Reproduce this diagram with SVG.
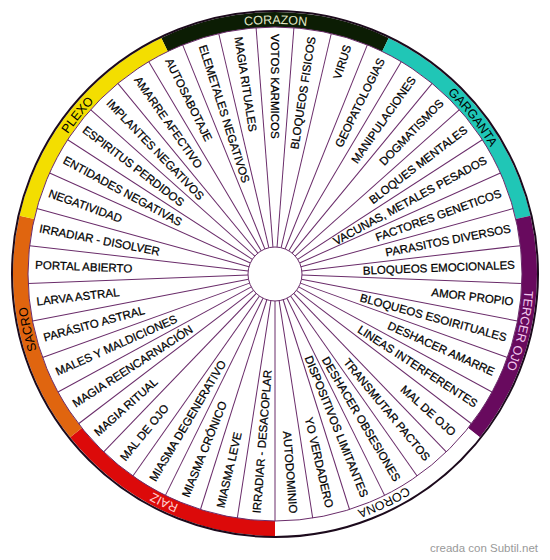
<svg xmlns="http://www.w3.org/2000/svg" xmlns:xlink="http://www.w3.org/1999/xlink" width="550" height="560" viewBox="0 0 550 560">
<style>
.lbl{font-family:"Liberation Sans",Arial,sans-serif;font-size:11.5px;fill:#000;stroke:#000;stroke-width:0.25}
.r{text-anchor:end}
.l{text-anchor:start}
.ch{font-family:"Liberation Sans",Arial,sans-serif;font-size:12.5px;text-anchor:middle}
.sp{stroke:#6a2c6a;stroke-width:1;fill:none}
</style>
<defs>
<path id="arc" d="M275,24 A250,250 0 0 1 275,524 A250,250 0 0 1 275,24 A250,250 0 0 1 275,524 A250,250 0 0 1 275,24" fill="none"/>
</defs>
<rect width="550" height="560" fill="#fff"/>
<g id="ring">
<g id="corazon"><path d="M161.32,37.95 A262,262 0 0 1 388.68,37.95 L382.17,51.46 A247,247 0 0 0 167.83,51.46 Z" fill="#0c1d04"/></g>
<g id="garganta"><path d="M388.68,37.95 A262,262 0 0 1 530.43,215.70 L515.81,219.04 A247,247 0 0 0 382.17,51.46 Z" fill="#20c6b6"/></g>
<g id="tercer-ojo"><path d="M530.43,215.70 A262,262 0 0 1 479.84,437.35 L468.11,428 A247,247 0 0 0 515.81,219.04 Z" fill="#680a5e"/></g>
<g id="corona"><path d="M479.84,437.35 A262,262 0 0 1 275,536 L275,521 A247,247 0 0 0 468.11,428 Z" fill="#fff"/></g>
<g id="raiz"><path d="M275,536 A262,262 0 0 1 70.16,437.35 L81.89,428 A247,247 0 0 0 275,521 Z" fill="#dc0a0a"/></g>
<g id="sacro"><path d="M70.16,437.35 A262,262 0 0 1 19.57,215.70 L34.19,219.04 A247,247 0 0 0 81.89,428 Z" fill="#e0650f"/></g>
<g id="plexo"><path d="M19.57,215.70 A262,262 0 0 1 161.32,37.95 L167.83,51.46 A247,247 0 0 0 34.19,219.04 Z" fill="#f3de00"/></g>
<circle cx="275" cy="274" r="247" class="sp"/>
<circle cx="275" cy="274" r="263" fill="none" stroke="#1c0a1c" stroke-width="2"/>
</g>
<g id="ring-labels">
<text class="ch" fill="#e2e8c8"><textPath xlink:href="#arc" href="#arc" startOffset="1570.80">CORAZON</textPath></text>
<text class="ch" fill="#000"><textPath xlink:href="#arc" href="#arc" startOffset="1795.20">GARGANTA</textPath></text>
<text class="ch" fill="#f2c8ee"><textPath xlink:href="#arc" href="#arc" startOffset="2019.60">TERCER OJO</textPath></text>
<text class="ch" fill="#000"><textPath xlink:href="#arc" href="#arc" startOffset="2244.00">CORONA</textPath></text>
<text class="ch" fill="#ffd0d0"><textPath xlink:href="#arc" href="#arc" startOffset="2468.40">RAIZ</textPath></text>
<text class="ch" fill="#000"><textPath xlink:href="#arc" href="#arc" startOffset="2692.80">SACRO</textPath></text>
<text class="ch" fill="#000"><textPath xlink:href="#arc" href="#arc" startOffset="2917.20">PLEXO</textPath></text>
</g>
<g id="connectors" class="sp">
<line x1="275" y1="247" x2="275" y2="27" transform="rotate(4.390 275 274)"/>
<line x1="275" y1="247" x2="275" y2="27" transform="rotate(13.171 275 274)"/>
<line x1="275" y1="247" x2="275" y2="27" transform="rotate(21.951 275 274)"/>
<line x1="275" y1="247" x2="275" y2="27" transform="rotate(30.732 275 274)"/>
<line x1="275" y1="247" x2="275" y2="27" transform="rotate(39.512 275 274)"/>
<line x1="275" y1="247" x2="275" y2="27" transform="rotate(48.293 275 274)"/>
<line x1="275" y1="247" x2="275" y2="27" transform="rotate(57.073 275 274)"/>
<line x1="275" y1="247" x2="275" y2="27" transform="rotate(65.854 275 274)"/>
<line x1="275" y1="247" x2="275" y2="27" transform="rotate(74.634 275 274)"/>
<line x1="275" y1="247" x2="275" y2="27" transform="rotate(83.415 275 274)"/>
<line x1="275" y1="247" x2="275" y2="27" transform="rotate(92.195 275 274)"/>
<line x1="275" y1="247" x2="275" y2="27" transform="rotate(100.976 275 274)"/>
<line x1="275" y1="247" x2="275" y2="27" transform="rotate(109.756 275 274)"/>
<line x1="275" y1="247" x2="275" y2="27" transform="rotate(118.537 275 274)"/>
<line x1="275" y1="247" x2="275" y2="27" transform="rotate(127.317 275 274)"/>
<line x1="275" y1="247" x2="275" y2="27" transform="rotate(136.098 275 274)"/>
<line x1="275" y1="247" x2="275" y2="27" transform="rotate(144.878 275 274)"/>
<line x1="275" y1="247" x2="275" y2="27" transform="rotate(153.659 275 274)"/>
<line x1="275" y1="247" x2="275" y2="27" transform="rotate(162.439 275 274)"/>
<line x1="275" y1="247" x2="275" y2="27" transform="rotate(171.220 275 274)"/>
<line x1="275" y1="247" x2="275" y2="27" transform="rotate(180 275 274)"/>
<line x1="275" y1="247" x2="275" y2="27" transform="rotate(188.780 275 274)"/>
<line x1="275" y1="247" x2="275" y2="27" transform="rotate(197.561 275 274)"/>
<line x1="275" y1="247" x2="275" y2="27" transform="rotate(206.341 275 274)"/>
<line x1="275" y1="247" x2="275" y2="27" transform="rotate(215.122 275 274)"/>
<line x1="275" y1="247" x2="275" y2="27" transform="rotate(223.902 275 274)"/>
<line x1="275" y1="247" x2="275" y2="27" transform="rotate(232.683 275 274)"/>
<line x1="275" y1="247" x2="275" y2="27" transform="rotate(241.463 275 274)"/>
<line x1="275" y1="247" x2="275" y2="27" transform="rotate(250.244 275 274)"/>
<line x1="275" y1="247" x2="275" y2="27" transform="rotate(259.024 275 274)"/>
<line x1="275" y1="247" x2="275" y2="27" transform="rotate(267.805 275 274)"/>
<line x1="275" y1="247" x2="275" y2="27" transform="rotate(276.585 275 274)"/>
<line x1="275" y1="247" x2="275" y2="27" transform="rotate(285.366 275 274)"/>
<line x1="275" y1="247" x2="275" y2="27" transform="rotate(294.146 275 274)"/>
<line x1="275" y1="247" x2="275" y2="27" transform="rotate(302.927 275 274)"/>
<line x1="275" y1="247" x2="275" y2="27" transform="rotate(311.707 275 274)"/>
<line x1="275" y1="247" x2="275" y2="27" transform="rotate(320.488 275 274)"/>
<line x1="275" y1="247" x2="275" y2="27" transform="rotate(329.268 275 274)"/>
<line x1="275" y1="247" x2="275" y2="27" transform="rotate(338.049 275 274)"/>
<line x1="275" y1="247" x2="275" y2="27" transform="rotate(346.829 275 274)"/>
<line x1="275" y1="247" x2="275" y2="27" transform="rotate(355.610 275 274)"/>
</g>
<g id="hub"><circle cx="275" cy="274" r="27" fill="#fff" stroke="#6a2c6a" stroke-width="1"/></g>
<g id="seg-0"><text class="lbl l" x="35" y="278" transform="rotate(90 275 274)">VOTOS KARMICOS</text></g>
<g id="seg-1"><text class="lbl r" x="515" y="278" transform="rotate(-81.220 275 274)">BLOQUEOS FISICOS</text></g>
<g id="seg-2"><text class="lbl r" x="515" y="278" transform="rotate(-72.439 275 274)">VIRUS</text></g>
<g id="seg-3"><text class="lbl r" x="515" y="278" transform="rotate(-63.659 275 274)">GEOPATOLOGIAS</text></g>
<g id="seg-4"><text class="lbl r" x="515" y="278" transform="rotate(-54.878 275 274)">MANIPULACIONES</text></g>
<g id="seg-5"><text class="lbl r" x="515" y="278" transform="rotate(-46.098 275 274)">DOGMATISMOS</text></g>
<g id="seg-6"><text class="lbl r" x="515" y="278" transform="rotate(-37.317 275 274)">BLOQUES MENTALES</text></g>
<g id="seg-7"><text class="lbl r" x="515" y="278" transform="rotate(-28.537 275 274)">VACUNAS, METALES PESADOS</text></g>
<g id="seg-8"><text class="lbl r" x="515" y="278" transform="rotate(-19.756 275 274)">FACTORES GENETICOS</text></g>
<g id="seg-9"><text class="lbl r" x="515" y="278" transform="rotate(-10.976 275 274)">PARASITOS DIVERSOS</text></g>
<g id="seg-10"><text class="lbl r" x="515" y="278" transform="rotate(-2.195 275 274)">BLOQUEOS EMOCIONALES</text></g>
<g id="seg-11"><text class="lbl r" x="515" y="278" transform="rotate(6.585 275 274)">AMOR PROPIO</text></g>
<g id="seg-12"><text class="lbl r" x="515" y="278" transform="rotate(15.366 275 274)">BLOQUEOS ESOIRITUALES</text></g>
<g id="seg-13"><text class="lbl r" x="515" y="278" transform="rotate(24.146 275 274)">DESHACER AMARRE</text></g>
<g id="seg-14"><text class="lbl r" x="515" y="278" transform="rotate(32.927 275 274)">LINEAS INTERFERENTES</text></g>
<g id="seg-15"><text class="lbl r" x="515" y="278" transform="rotate(41.707 275 274)">MAL DE OJO</text></g>
<g id="seg-16"><text class="lbl r" x="515" y="278" transform="rotate(50.488 275 274)">TRANSMUTAR PACTOS</text></g>
<g id="seg-17"><text class="lbl r" x="515" y="278" transform="rotate(59.268 275 274)">DESHACER OBSESIONES</text></g>
<g id="seg-18"><text class="lbl r" x="515" y="278" transform="rotate(68.049 275 274)">DISPOSITIVOS LIMITANTES</text></g>
<g id="seg-19"><text class="lbl r" x="515" y="278" transform="rotate(76.829 275 274)">YO VERDADERO</text></g>
<g id="seg-20"><text class="lbl r" x="515" y="278" transform="rotate(85.610 275 274)">AUTODOMINIO</text></g>
<g id="seg-21"><text class="lbl l" x="35" y="278" transform="rotate(274.390 275 274)">IRRADIAR - DESACOPLAR</text></g>
<g id="seg-22"><text class="lbl l" x="35" y="278" transform="rotate(283.171 275 274)">MIASMA LEVE</text></g>
<g id="seg-23"><text class="lbl l" x="35" y="278" transform="rotate(291.951 275 274)">MIASMA CRÓNICO</text></g>
<g id="seg-24"><text class="lbl l" x="35" y="278" transform="rotate(300.732 275 274)">MIASMA DEGENERATIVO</text></g>
<g id="seg-25"><text class="lbl l" x="35" y="278" transform="rotate(309.512 275 274)">MAL DE OJO</text></g>
<g id="seg-26"><text class="lbl l" x="35" y="278" transform="rotate(318.293 275 274)">MAGIA RITUAL</text></g>
<g id="seg-27"><text class="lbl l" x="35" y="278" transform="rotate(327.073 275 274)">MAGIA REENCARNACIÓN</text></g>
<g id="seg-28"><text class="lbl l" x="35" y="278" transform="rotate(335.854 275 274)">MALES Y MALDICIONES</text></g>
<g id="seg-29"><text class="lbl l" x="35" y="278" transform="rotate(344.634 275 274)">PARÁSITO ASTRAL</text></g>
<g id="seg-30"><text class="lbl l" x="35" y="278" transform="rotate(353.415 275 274)">LARVA ASTRAL</text></g>
<g id="seg-31"><text class="lbl l" x="35" y="278" transform="rotate(2.195 275 274)">PORTAL ABIERTO</text></g>
<g id="seg-32"><text class="lbl l" x="35" y="278" transform="rotate(10.976 275 274)">IRRADIAR - DISOLVER</text></g>
<g id="seg-33"><text class="lbl l" x="35" y="278" transform="rotate(19.756 275 274)">NEGATIVIDAD</text></g>
<g id="seg-34"><text class="lbl l" x="35" y="278" transform="rotate(28.537 275 274)">ENTIDADES NEGATIVAS</text></g>
<g id="seg-35"><text class="lbl l" x="35" y="278" transform="rotate(37.317 275 274)">ESPIRITUS PERDIDOS</text></g>
<g id="seg-36"><text class="lbl l" x="35" y="278" transform="rotate(46.098 275 274)">IMPLANTES NEGATIVOS</text></g>
<g id="seg-37"><text class="lbl l" x="35" y="278" transform="rotate(54.878 275 274)">AMARRE AFECTIVO</text></g>
<g id="seg-38"><text class="lbl l" x="35" y="278" transform="rotate(63.659 275 274)">AUTOSABOTAJE</text></g>
<g id="seg-39"><text class="lbl l" x="35" y="278" transform="rotate(72.439 275 274)">ELEMETALES NEGATIVOS</text></g>
<g id="seg-40"><text class="lbl l" x="35" y="278" transform="rotate(81.220 275 274)">MAGIA RITUALES</text></g>
<text x="538" y="552" font-family="'Liberation Sans',Arial,sans-serif" font-size="11.5" fill="#999" text-anchor="end">creada con Subtil.net</text>
</svg>
